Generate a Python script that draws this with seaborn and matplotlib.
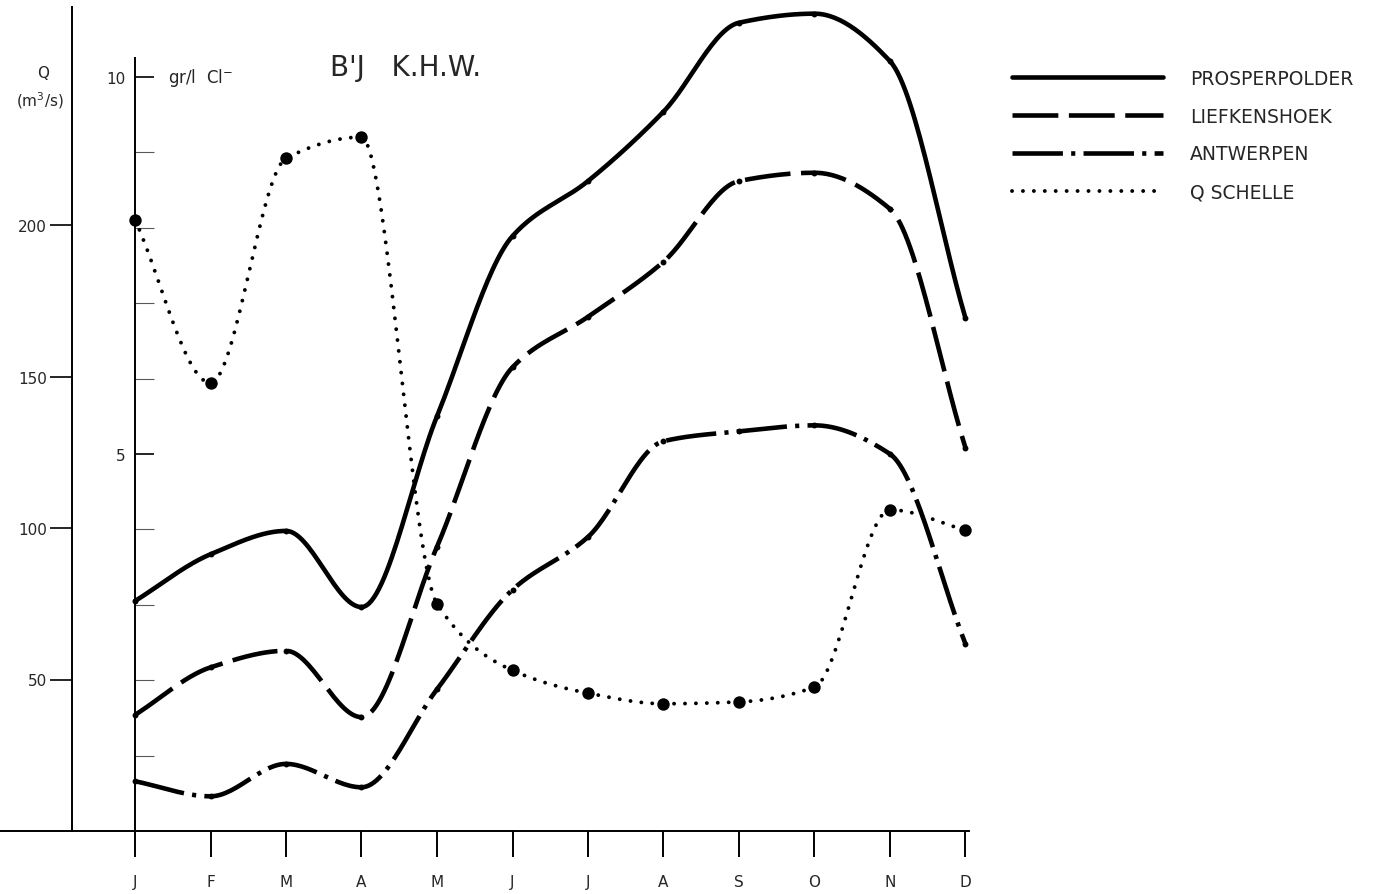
import numpy as np
import pandas as pd
import seaborn as sns
import matplotlib.pyplot as plt
from matplotlib.lines import Line2D

months = ['J', 'F', 'M', 'A', 'M', 'J', 'J', 'A', 'S', 'O', 'N', 'D']

# chloride (gr/l Cl-)
prosperpolder = [3.05, 3.67, 3.98, 2.97, 5.50, 7.89, 8.62, 9.54, 10.72, 10.84, 10.21, 6.80]
liefkenshoek = [1.54, 2.17, 2.39, 1.51, 3.77, 6.15, 6.82, 7.55, 8.62, 8.73, 8.25, 5.08]
antwerpen = [0.66, 0.46, 0.89, 0.58, 1.88, 3.20, 3.90, 5.17, 5.30, 5.38, 5.00, 2.48]

# discharge Q Schelle (m3/s)
q_schelle = [201.7, 147.9, 222, 229, 75, 53, 45.5, 42, 42.6, 47.5, 106, 99.3]

cl_ticks = [5, 10]
cl_minor = [1, 2, 3, 4, 6, 7, 8, 9]
q_ticks = [50, 100, 150, 200]


def smooth(xs, ys, n=30):
    '''Monotone cubic (Fritsch-Carlson) curve through the points, for drawing only.'''
    xs = np.asarray(xs, float)
    ys = np.asarray(ys, float)
    h = np.diff(xs)
    d = np.diff(ys) / h
    m = np.zeros_like(ys)
    for i in range(1, len(ys) - 1):
        if d[i - 1] * d[i] > 0:
            m[i] = 2 / (1 / d[i - 1] + 1 / d[i])
    m[0], m[-1] = d[0], d[-1]
    px, py = [], []
    t = np.linspace(0, 1, n, endpoint=False)
    for i in range(len(xs) - 1):
        h00 = 2 * t ** 3 - 3 * t ** 2 + 1
        h10 = t ** 3 - 2 * t ** 2 + t
        h01 = -2 * t ** 3 + 3 * t ** 2
        h11 = t ** 3 - t ** 2
        px.append(xs[i] + t * h[i])
        py.append(h00 * ys[i] + h10 * h[i] * m[i] + h01 * ys[i + 1] + h11 * h[i] * m[i + 1])
    px.append([xs[-1]])
    py.append([ys[-1]])
    return pd.DataFrame({'x': np.concatenate(px), 'y': np.concatenate(py)})


sns.set_style('white')
plt.rcParams['font.family'] = ['DejaVu Sans']

fig = plt.figure(figsize=(13.78, 8.95), dpi=100)
ax = fig.add_axes([0, 63 / 895, 975 / 1378, 832 / 895])
ax.set_xlim(-135 / 75.5, (975 - 135) / 75.5)
ax.set_ylim(0, 832 / 75.4)
ax2 = ax.twinx()
ax2.set_ylim(0, 832 / 3.03)

x = np.arange(len(months))
lw = 3.3
styles = {
    'PROSPERPOLDER': (prosperpolder, '-'),
    'LIEFKENSHOEK': (liefkenshoek, (0, (10, 2.3))),
    'ANTWERPEN': (antwerpen, (0, (11, 1.8, 0.9, 1.8))),
}
handles = []
for name, (vals, ls) in styles.items():
    sns.lineplot(data=smooth(x, vals), x='x', y='y', ax=ax, color='black',
                 lw=lw, linestyle=ls, sort=False, estimator=None)
    sns.scatterplot(x=x, y=vals, ax=ax, color='black', s=18, linewidth=0, zorder=3)
    handles.append(Line2D([], [], color='black', lw=lw, linestyle=ls))

dot_ls = (0, (0.01, 2.8))
sns.lineplot(data=smooth(x, q_schelle), x='x', y='y', ax=ax2, color='black',
             lw=2.8, linestyle=dot_ls, dash_capstyle='round', sort=False, estimator=None)
sns.scatterplot(x=x, y=q_schelle, ax=ax2, color='black', s=80, linewidth=0, zorder=3)
handles.append(Line2D([], [], color='black', lw=2.8, linestyle=dot_ls,
                      dash_capstyle='round'))

# inner chloride axis
for s in ['top', 'right']:
    ax.spines[s].set_visible(False)
ax.spines['left'].set_position(('axes', 135 / 975))
ax.spines['left'].set_bounds(0, 10.25)
ax.spines['bottom'].set_bounds(ax.get_xlim()[0], 11.05)
for s in ['left', 'bottom']:
    ax.spines[s].set_color('black')
    ax.spines[s].set_linewidth(1.4)
ax.set_yticks(cl_ticks)
ax.set_yticklabels([str(v) for v in cl_ticks])
ax.set_yticks(cl_minor, minor=True)
ax.tick_params(axis='y', which='major', direction='in', length=14, width=1.2,
               pad=7, labelsize=11, color='black')
ax.tick_params(axis='y', which='minor', direction='in', length=14, width=0.8,
               color='0.35', left=True)
ax.set_xticks(x)
ax.set_xticklabels(months)
ax.tick_params(axis='x', direction='out', length=19, width=1.4, pad=12,
               labelsize=11, color='black', bottom=True)
ax.set_xlabel('')
ax.set_ylabel('')

# outer discharge axis
for s in ['top', 'right', 'bottom']:
    ax2.spines[s].set_visible(False)
ax2.spines['left'].set_visible(True)
ax2.spines['left'].set_position(('axes', 72 / 975))
ax2.spines['left'].set_bounds(0, 272)
ax2.spines['left'].set_color('black')
ax2.spines['left'].set_linewidth(1.4)
ax2.yaxis.tick_left()
ax2.set_yticks(q_ticks)
ax2.set_yticklabels([str(v) for v in q_ticks])
ax2.tick_params(axis='y', direction='out', length=16, width=1.2, pad=2,
                labelsize=11, color='black', left=True, right=False)
ax2.set_ylabel('')

fig.text(43 / 1378, 1 - 73 / 895, 'Q', ha='center', va='center', fontsize=11)
fig.text(40 / 1378, 1 - 101 / 895, '(m$^{3}$/s)', ha='center', va='center', fontsize=11)
fig.text(168 / 1378, 1 - 78 / 895, 'gr/l  Cl$^{-}$', ha='left', va='center', fontsize=12)
fig.text(330 / 1378, 1 - 68 / 895, "B'J   K.H.W.", ha='left', va='center', fontsize=20)

fig.legend(handles, list(styles.keys()) + ['Q SCHELLE'], loc='upper left',
           bbox_to_anchor=(1012 / 1378, 1 - 70 / 895), frameon=False,
           borderpad=0, borderaxespad=0, handlelength=8.05, handletextpad=1.45,
           labelspacing=1.0, fontsize=13.5)

fig.savefig('out.png', dpi=100)
